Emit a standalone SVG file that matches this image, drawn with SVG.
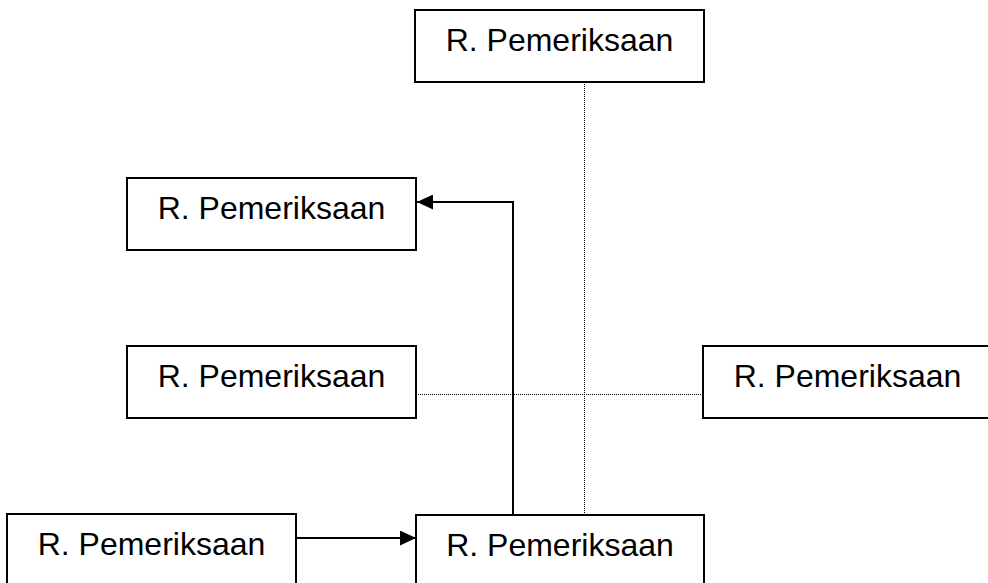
<svg xmlns="http://www.w3.org/2000/svg" width="988" height="583" viewBox="0 0 988 583">
  <style>
    .box { fill: #ffffff; stroke: #000000; stroke-width: 2; }
    .label { font-family: "Liberation Sans", Arial, sans-serif; font-size: 32px; fill: #000000; text-anchor: middle; }
    .solid { fill: none; stroke: #000000; stroke-width: 2; }
    .dotted { fill: none; stroke: #000000; stroke-width: 1; stroke-dasharray: 1 1; }
  </style>
  <defs>
    <marker id="arrow" viewBox="0 0 16 15" refX="16" refY="7.5" markerWidth="16" markerHeight="15" markerUnits="userSpaceOnUse" orient="auto">
      <path d="M0,0 L16,7.5 L0,15 Z" fill="#000000"/>
    </marker>
  </defs>
  <rect width="988" height="583" fill="#ffffff"/>

  <g id="connectors">
    <line class="dotted" x1="584.5" y1="82" x2="584.5" y2="515"/>
    <line class="dotted" x1="416" y1="394.5" x2="703" y2="394.5"/>
    <polyline class="solid" points="513,515 513,202 417,202" marker-end="url(#arrow)"/>
    <line class="solid" x1="296" y1="538" x2="416" y2="538" marker-end="url(#arrow)"/>
  </g>

  <g id="node-top">
    <rect class="box" x="415" y="10" width="289" height="72"/>
    <text class="label" x="559.5" y="51">R. Pemeriksaan</text>
  </g>
  <g id="node-upper-left">
    <rect class="box" x="127" y="178" width="289" height="72"/>
    <text class="label" x="271.5" y="219">R. Pemeriksaan</text>
  </g>
  <g id="node-middle-left">
    <rect class="box" x="127" y="346" width="289" height="72"/>
    <text class="label" x="271.5" y="387">R. Pemeriksaan</text>
  </g>
  <g id="node-middle-right">
    <rect class="box" x="703" y="346" width="289" height="72"/>
    <text class="label" x="847.5" y="387">R. Pemeriksaan</text>
  </g>
  <g id="node-bottom-left">
    <rect class="box" x="7" y="514" width="289" height="72"/>
    <text class="label" x="151.5" y="555">R. Pemeriksaan</text>
  </g>
  <g id="node-bottom-center">
    <rect class="box" x="416" y="515" width="288" height="72"/>
    <text class="label" x="560" y="556">R. Pemeriksaan</text>
  </g>
</svg>
